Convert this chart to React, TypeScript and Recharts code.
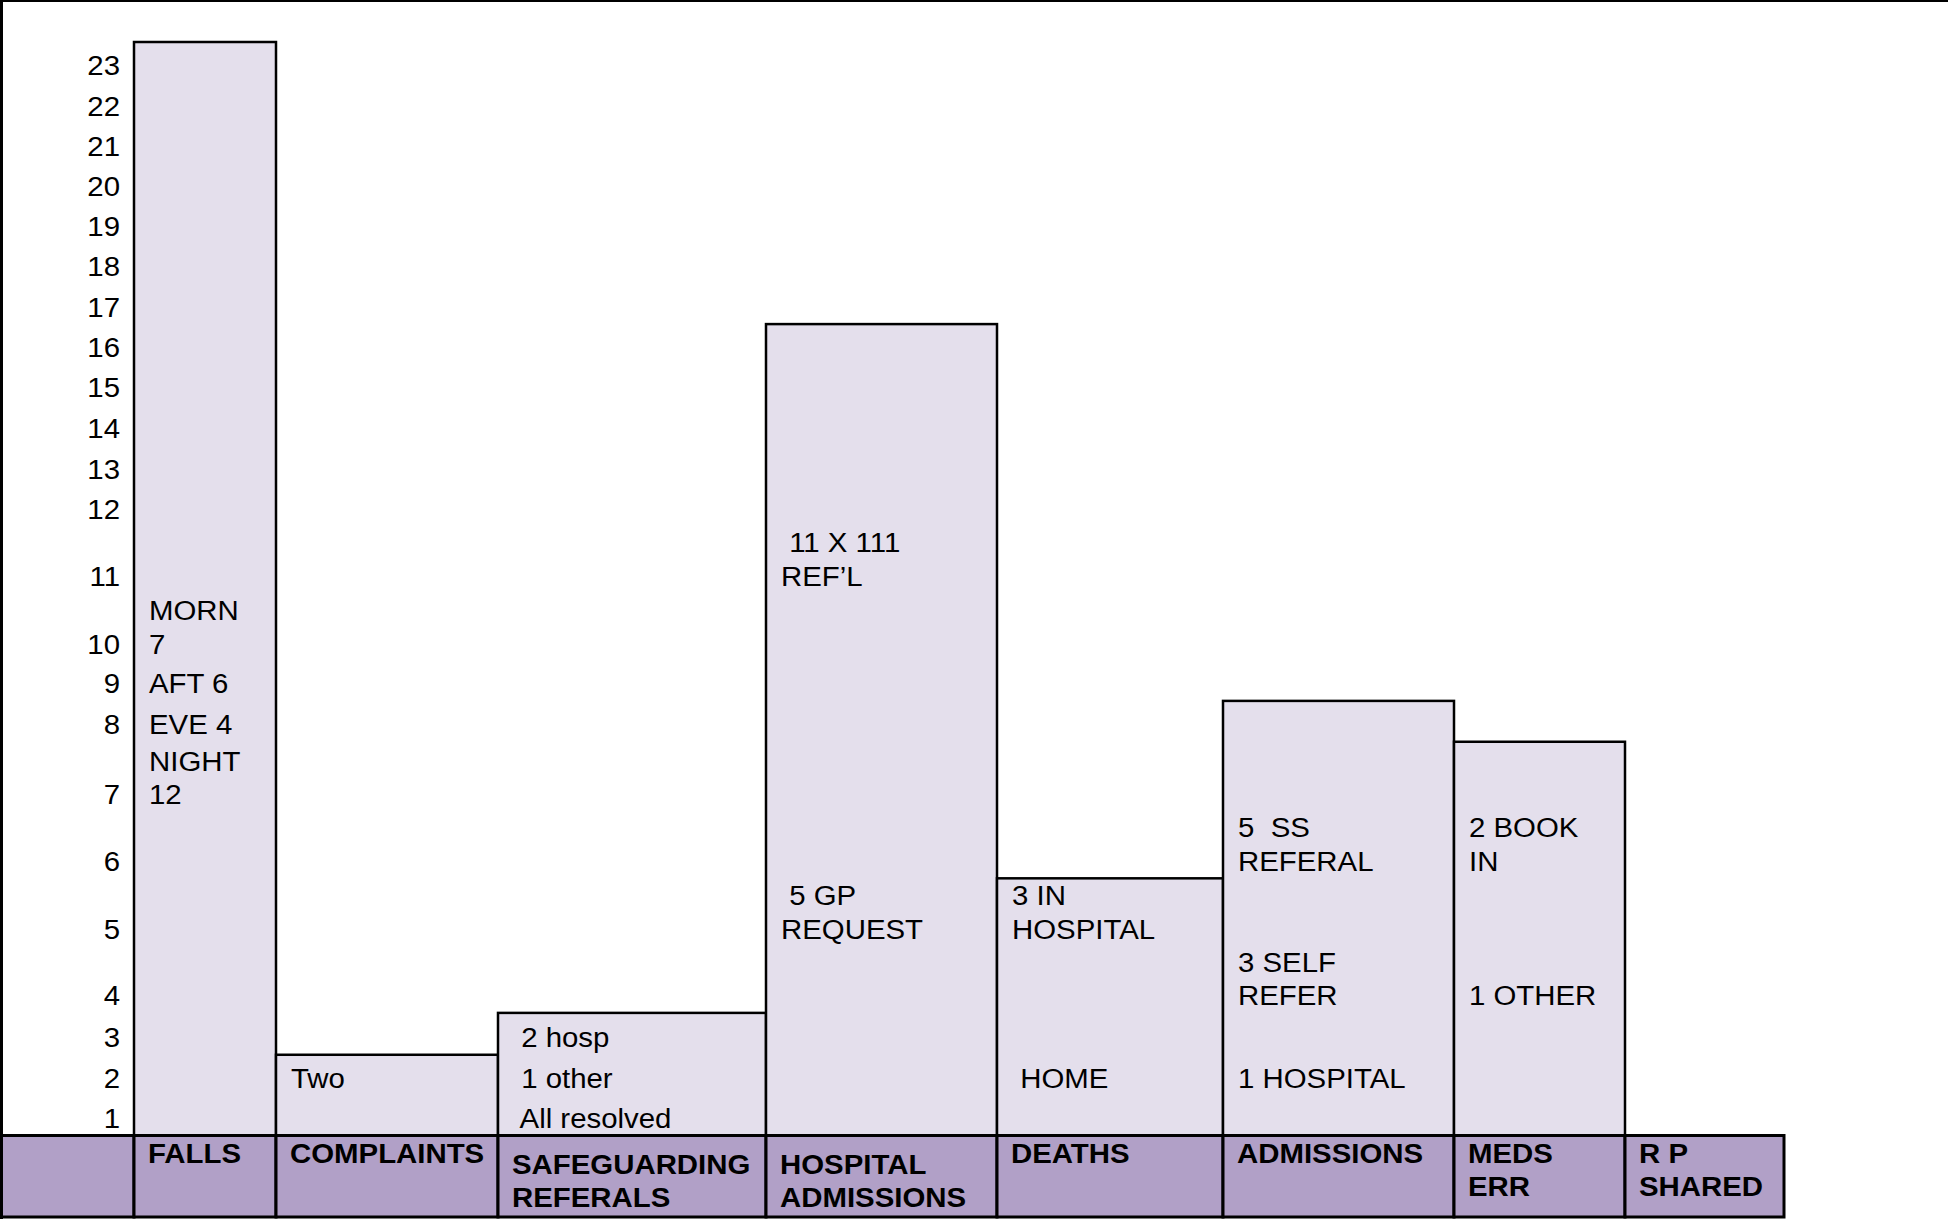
import React from "react"
import { BarChart, Bar, XAxis, YAxis } from "recharts"

// columns of the table / bars
const categories = [
  "FALLS",
  "COMPLAINTS",
  "SAFEGUARDING\nREFERALS",
  "HOSPITAL\nADMISSIONS",
  "DEATHS",
  "ADMISSIONS",
  "MEDS\nERR",
  "R P\nSHARED",
]
const counts = [23, 2, 3, 16, 5, 8, 7, 0]

// y axis row labels
const rows = Array.from({ length: 23 }, (_, i) => i + 1)

// text written inside the cells
const notes = [
  { cat: "FALLS", row: 10, text: "MORN\n7" },
  { cat: "FALLS", row: 9, text: "AFT 6" },
  { cat: "FALLS", row: 8, text: "EVE 4" },
  { cat: "FALLS", row: 7, text: "NIGHT\n12" },
  { cat: "COMPLAINTS", row: 2, text: "Two" },
  { cat: "SAFEGUARDING\nREFERALS", row: 3, text: " 2 hosp" },
  { cat: "SAFEGUARDING\nREFERALS", row: 2, text: " 1 other" },
  { cat: "SAFEGUARDING\nREFERALS", row: 1, text: " All resolved" },
  { cat: "HOSPITAL\nADMISSIONS", row: 11, text: " 11 X 111\nREF\u2019L" },
  { cat: "HOSPITAL\nADMISSIONS", row: 5, text: " 5 GP\nREQUEST" },
  { cat: "DEATHS", row: 5, text: "3 IN\nHOSPITAL" },
  { cat: "DEATHS", row: 2, text: " HOME" },
  { cat: "ADMISSIONS", row: 6, text: "5  SS\nREFERAL" },
  { cat: "ADMISSIONS", row: 4, text: "3 SELF\nREFER" },
  { cat: "ADMISSIONS", row: 2, text: "1 HOSPITAL" },
  { cat: "MEDS\nERR", row: 6, text: "2 BOOK\nIN" },
  { cat: "MEDS\nERR", row: 4, text: "1 OTHER" },
]

const data = categories.map((name, i) => ({ name, value: counts[i] }))

// table layout (relative sizes of the table's columns and rows)
const colWidths = [142, 222, 268, 231, 226, 231, 171, 159]
const rowHeights = [40, 41, 42, 67, 68, 67, 70, 41, 40, 68, 67, 40, 41, 41, 40, 41, 41, 40, 40, 40, 40, 41, 41]
const loweredHeaders = ["SAFEGUARDING\nREFERALS", "HOSPITAL\nADMISSIONS"]

const FONT = "'Liberation Sans', Arial, Helvetica, sans-serif"
const FS = 28
const STRETCH = 1.05
const LINE = 33.5
const HEADER_H = 81.5

const live: { x?: any; y?: any } = {}

// piecewise linear scale: each row of the table has its own height
function rowScale(heights: number[]): any {
  let dom = [0, heights.length]
  let rng = [0, 1]
  const total = heights.reduce((a, b) => a + b, 0)
  const frac = (v: number) => {
    const t = Math.max(0, Math.min(heights.length, v - dom[0]))
    const k = Math.floor(t)
    let acc = 0
    for (let i = 0; i < k; i++) acc += heights[i]
    if (k < heights.length) acc += heights[k] * (t - k)
    return acc / total
  }
  const s: any = (v: number) => rng[0] + (rng[1] - rng[0]) * frac(Number(v))
  s.domain = (d?: any[]) => {
    if (d === undefined) return dom
    dom = d.map(Number)
    live.y = s
    return s
  }
  s.range = (r?: any[]) => {
    if (r === undefined) return rng
    rng = r.map(Number)
    live.y = s
    return s
  }
  s.copy = () => rowScale(heights).domain(dom).range(rng)
  s.ticks = () => heights.map((_, i) => i + 1)
  s.tickFormat = () => (v: any) => String(v)
  s.nice = () => s
  s.clamp = () => s
  return s
}

// band scale whose bands have different widths
function columnScale(widths: number[]): any {
  let dom: any[] = categories
  let rng = [0, 1]
  const total = widths.reduce((a, b) => a + b, 0)
  const idx = (v: any) => {
    let i = dom.indexOf(v)
    if (i < 0) i = categories.indexOf(v)
    if (i < 0 && typeof v === "number") i = v
    return i
  }
  const s: any = (v: any) => {
    const i = idx(v)
    if (i < 0 || i >= widths.length) return undefined
    let acc = 0
    for (let k = 0; k < i; k++) acc += widths[k]
    return rng[0] + ((rng[1] - rng[0]) * acc) / total
  }
  s.span = (v: any) => ((rng[1] - rng[0]) * widths[idx(v)]) / total
  s.bandwidth = () => ((rng[1] - rng[0]) * Math.min(...widths)) / total
  s.step = s.bandwidth
  s.domain = (d?: any[]) => {
    if (d === undefined) return dom
    dom = [...d]
    live.x = s
    return s
  }
  s.range = (r?: any[]) => {
    if (r === undefined) return rng
    rng = r.map(Number)
    live.x = s
    return s
  }
  s.copy = () => columnScale(widths).domain(dom).range(rng)
  return s
}

const xScale = columnScale(colWidths)
const yScale = rowScale(rowHeights)

function Lines({ x, y, lines, bold, anchor }: { x: number; y: number; lines: string[]; bold?: boolean; anchor?: string }) {
  return (
    <g transform={`translate(${x},0) scale(${STRETCH},1)`}>
      <text
        fontFamily={FONT}
        fontSize={FS}
        fontWeight={bold ? 700 : 400}
        fill="#000"
        textAnchor={anchor ?? "start"}
        xmlSpace="preserve"
        style={{ whiteSpace: "pre" }}
      >
        {lines.map((l, i) => (
          <tspan key={i} x={0} y={y + i * LINE}>
            {l}
          </tspan>
        ))}
      </text>
    </g>
  )
}

function CellBar(p: any) {
  const xs = live.x
  const ys = live.y
  const cat = p.payload?.name ?? p.name
  if (!xs || !ys || !p.payload?.value) return null
  const left = xs(cat)
  const w = xs.span(cat)
  const cellNotes = notes.filter((n) => n.cat === cat)
  return (
    <g>
      <rect x={left} y={p.y} width={w} height={p.height} fill="#e4dfec" stroke="#000" strokeWidth={2.5} />
      {cellNotes.map((n, i) => {
        const lines = n.text.split("\n")
        const lastY = ys(n.row - 1) - 7.5
        return <Lines key={i} x={left + 15} y={lastY - (lines.length - 1) * LINE} lines={lines} />
      })}
    </g>
  )
}

function HeaderTick(p: any) {
  const xs = live.x
  if (!xs) return null
  const cat = p.payload.value
  const left = xs(cat)
  const w = xs.span(cat)
  const top = p.y
  const dy = loweredHeaders.includes(cat) ? 11 : 0
  return (
    <g>
      {p.index === 0 && (
        <rect x={0} y={top} width={left} height={HEADER_H} fill="#b1a0c7" stroke="#000" strokeWidth={3} />
      )}
      <rect x={left} y={top} width={w} height={HEADER_H} fill="#b1a0c7" stroke="#000" strokeWidth={3} />
      <Lines x={left + 14} y={top + 27.5 + dy} lines={String(cat).split("\n")} bold />
    </g>
  )
}

function RowTick(p: any) {
  const ys = live.y
  if (!ys) return null
  const v = Number(p.payload.value)
  return <Lines x={p.x} y={ys(v - 1) - 7.5} lines={[String(v)]} anchor="end" />
}

export default function App() {
  return (
    <div style={{ position: "absolute", top: 0, left: 0, width: 1948, height: 1219, background: "#fff" }}>
      <BarChart
        width={1948}
        height={1219}
        data={data}
        margin={{ top: 42, right: 164, bottom: 2, left: 0 }}
        barCategoryGap={0}
        barGap={0}
      >
        <XAxis
          dataKey="name"
          type="category"
          scale={xScale}
          interval={0}
          allowDuplicatedCategory={false}
          axisLine={false}
          tickLine={false}
          tickSize={0}
          tickMargin={0}
          height={HEADER_H}
          tick={(p: any) => <HeaderTick {...p} />}
        />
        <YAxis
          type="number"
          domain={[0, 23]}
          scale={yScale}
          ticks={rows}
          interval={0}
          axisLine={false}
          tickLine={false}
          tickSize={0}
          tickMargin={14}
          width={134}
          tick={(p: any) => <RowTick {...p} />}
        />
        <Bar dataKey="value" isAnimationActive={false} shape={(p: any) => <CellBar {...p} />} />
      </BarChart>
      <div
        style={{
          position: "absolute",
          top: 0,
          left: 0,
          width: 1948,
          height: 1219,
          boxSizing: "border-box",
          borderTop: "2px solid #000",
          borderLeft: "3px solid #000",
          pointerEvents: "none",
        }}
      />
    </div>
  )
}
